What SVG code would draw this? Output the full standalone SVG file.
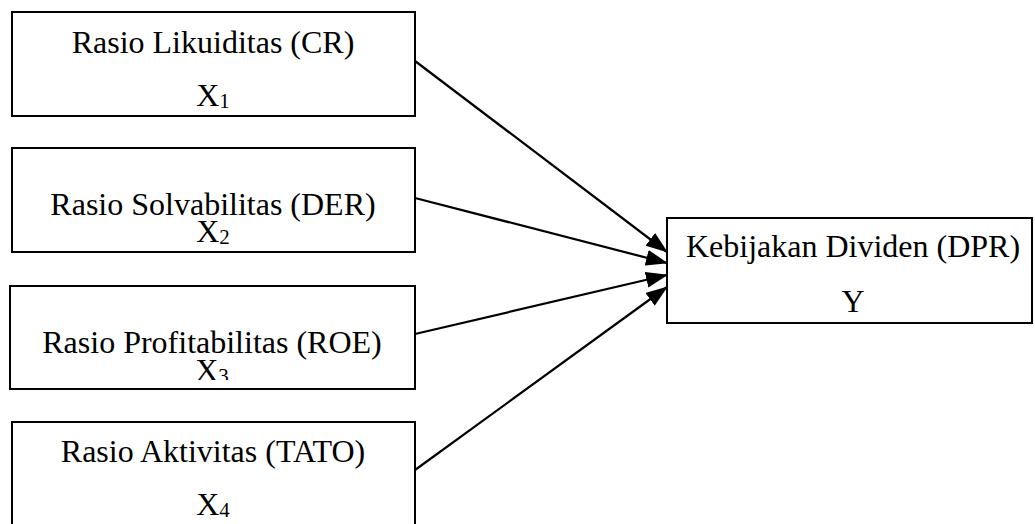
<svg xmlns="http://www.w3.org/2000/svg" width="1035" height="524" viewBox="0 0 1035 524">
<style>
.box{fill:#fff;stroke:#000;stroke-width:2}
.t{font-family:"Liberation Serif","Times New Roman",serif;font-size:32px;fill:#000;text-anchor:middle}
.sub{font-size:21px}
.c{stroke:#000;stroke-width:2.2;fill:none;marker-end:url(#ah)}
</style>
<defs>
<marker id="ah" markerUnits="userSpaceOnUse" markerWidth="22" markerHeight="16" refX="21" refY="8" orient="auto">
<path d="M0,0 L22,8 L0,16 Z" fill="#000"/>
</marker>
<clipPath id="clip3"><rect x="10" y="286" width="405" height="94"/></clipPath>
</defs>
<g id="connectors">
<line class="c" x1="415" y1="61" x2="667" y2="252"/>
<line class="c" x1="415" y1="198" x2="667" y2="263"/>
<line class="c" x1="415" y1="334" x2="667" y2="275"/>
<line class="c" x1="415" y1="470" x2="667" y2="287"/>
</g>
<g id="x1">
<rect class="box" x="12" y="12" width="403" height="104"/>
<text class="t" x="213" y="53">Rasio Likuiditas (CR)</text>
<text class="t" x="213" y="106">X<tspan class="sub" dy="2">1</tspan></text>
</g>
<g id="x2">
<rect class="box" x="12" y="148" width="403" height="104"/>
<text class="t" x="213" y="215">Rasio Solvabilitas (DER)</text>
<text class="t" x="213" y="242">X<tspan class="sub" dy="2">2</tspan></text>
</g>
<g id="x3">
<rect class="box" x="10" y="286" width="405" height="103"/>
<text class="t" x="212" y="353">Rasio Profitabilitas (ROE)</text>
<g clip-path="url(#clip3)"><text class="t" x="212" y="381">X<tspan class="sub" dy="2">3</tspan></text></g>
</g>
<g id="x4">
<rect class="box" x="12" y="422" width="403" height="120"/>
<text class="t" x="213" y="462">Rasio Aktivitas (TATO)</text>
<text class="t" x="213" y="515">X<tspan class="sub" dy="2">4</tspan></text>
</g>
<g id="y">
<rect class="box" x="667" y="218" width="365" height="105"/>
<text class="t" x="853" y="257">Kebijakan Dividen (DPR)</text>
<text class="t" x="853" y="312">Y</text>
</g>
</svg>
